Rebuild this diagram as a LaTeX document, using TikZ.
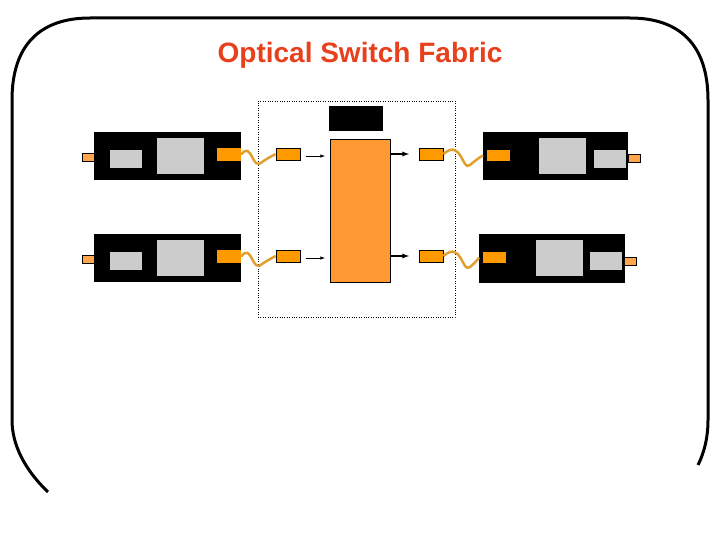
\documentclass[tikz,border=0pt]{standalone}
\usepackage{fontspec}
\setmainfont{Liberation Sans}
\definecolor{ttl}{HTML}{E8401C}
\definecolor{org1}{HTML}{FF9900}
\definecolor{org2}{HTML}{FF9933}
\definecolor{fib}{HTML}{E0A030}
\begin{document}
\begin{tikzpicture}[x=1pt,y=-1pt,
 blk/.style={fill=black,draw=none,inner sep=0,outer sep=0},
 gry/.style={fill=black!20,draw=none,inner sep=0},
 org/.style={fill=org1,draw=none,inner sep=0},
 orgb/.style={fill=org1,draw=black,line width=0.8pt,inner sep=0},
 stub/.style={fill=orange!70,draw=black,line width=0.4pt,inner sep=0},
 fiber/.style={draw=fib,line width=2.5pt},
 arr/.style={-latex,line width=0.6pt}]
\useasboundingbox (0,0) rectangle (720,540);
% frame
\draw[line width=3pt] (48,492) .. controls (25,470) and (12,445) .. (12,420) -- (12,100)
  .. controls (12,45) and (40,18) .. (90,18) -- (630,18)
  .. controls (680,18) and (708,45) .. (708,100) -- (708,420) .. controls (708,440) and (703,455) .. (698,465);
\node[text=ttl,font=\bfseries\fontsize{28}{32}\selectfont] (title) at (360,55) {Optical Switch Fabric};
\node[draw,dotted,minimum width=197,minimum height=216,inner sep=0] (fab) at (356.5,209) {};
\node[blk,minimum width=54,minimum height=25] (ctl) at (356,118.5) {};
\node[orgb,fill=org2,minimum width=60,minimum height=143] (sw) at (360,210.5) {};
\foreach \y/\n in {0/a,102/b}{
 \node[blk,minimum width=147,minimum height=48] (lm\n) at (167.5,156+\y) {};
 \node[stub,minimum width=12,minimum height=8] (ls\n) at (88,157+\y) {};
 \node[gry,minimum width=32,minimum height=18] (lg\n) at (126,159+\y) {};
 \node[gry,minimum width=47,minimum height=36] (lG\n) at (180.5,156+\y) {};
 \node[org,minimum width=24,minimum height=13] (lo\n) at (229,154.5+\y) {};
 \node[orgb,minimum width=24,minimum height=12] (li\n) at (288,154+\y) {};
 \node[orgb,minimum width=24,minimum height=12] (ri\n) at (431,154+\y) {};
 \draw[fiber] (lo\n.east) .. controls (252,140+\y) and (252,172+\y) .. (262,162+\y) .. controls (268,158+\y) and (272,156+\y) .. (li\n.west);
 \draw[arr] (306,156+\y) -- (325,156+\y);
 \draw[arr,line width=1.3pt] (390,154+\y) -- (409,154+\y);
}
\node[blk,minimum width=145,minimum height=48] (rma) at (555.5,156) {};
\node[org,minimum width=23,minimum height=11] (roa) at (498.5,155.5) {};
\node[gry,minimum width=47,minimum height=36] (rGa) at (562.5,156) {};
\node[gry,minimum width=32,minimum height=18] (rga) at (610,159) {};
\node[stub,minimum width=12,minimum height=8] (rsa) at (634,158) {};
\node[blk,minimum width=146,minimum height=49] (rmb) at (552,258.5) {};
\node[org,minimum width=23,minimum height=11] (rob) at (494.5,257.5) {};
\node[gry,minimum width=47,minimum height=36] (rGb) at (559.5,258) {};
\node[gry,minimum width=32,minimum height=18] (rgb) at (606,261) {};
\node[stub,minimum width=12,minimum height=8] (rsb) at (630,261) {};
\draw[fiber] (ria.east) .. controls (462,138) and (462,172) .. (470,165) .. controls (476,160) and (480,157) .. (rma.west |- roa.west);
\draw[fiber] (rib.east) .. controls (462,240) and (462,274) .. (470,267) .. controls (476,262) and (478,259) .. (rmb.west |- rob.west);
\end{tikzpicture}
\end{document}
